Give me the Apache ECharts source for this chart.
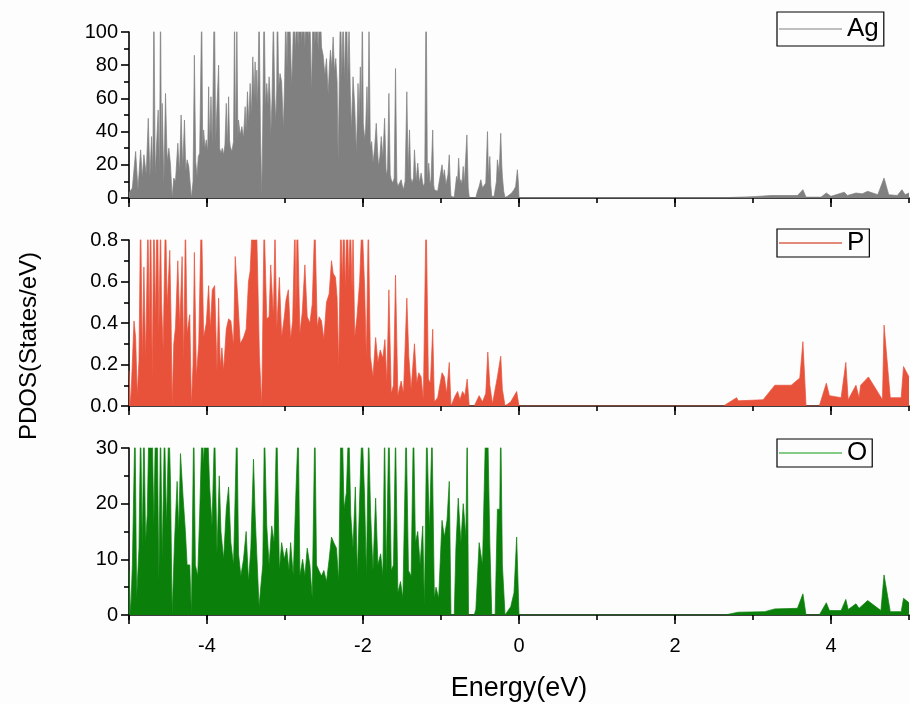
<!DOCTYPE html>
<html>
<head>
<meta charset="utf-8">
<script src="https://cdn.jsdelivr.net/npm/echarts@6/dist/echarts.min.js"></script>
<style>
html,body{margin:0;padding:0;background:#fdfdfd;}
#chart{width:910px;height:704px;}
</style>
</head>
<body>
<div id="chart"></div>
<script>
// ---- Data (energy in eV, PDOS in States/eV) ----
const seriesNames = ['Ag', 'P', 'O'];
const xTickLabels = [-4, -2, 0, 2, 4];
const agTicks = [0, 20, 40, 60, 80, 100];
const pTicks = [0.0, 0.2, 0.4, 0.6, 0.8];
const oTicks = [0, 10, 20, 30];
const xTitle = 'Energy(eV)';
const yTitle = 'PDOS(States/eV)';

const agData = [
[-5.000,3],[-4.957,6],[-4.915,28],[-4.885,5],[-4.851,29],[-4.830,12],[-4.809,26],[-4.779,14],[-4.753,48],[-4.732,12],
[-4.711,37],[-4.694,15],[-4.681,120],[-4.664,14],[-4.647,13],[-4.626,53],[-4.609,15],[-4.596,120],[-4.583,20],[-4.574,57],
[-4.553,8],[-4.532,63],[-4.511,22],[-4.489,30],[-4.468,20],[-4.447,0],[-4.426,12],[-4.404,10],[-4.374,33],[-4.353,15],
[-4.332,50],[-4.311,18],[-4.289,47],[-4.272,16],[-4.255,23],[-4.234,19],[-4.213,19],[-4.200,0],[-4.179,10],[-4.162,86],
[-4.145,22],[-4.128,13],[-4.111,25],[-4.094,27],[-4.068,115],[-4.055,30],[-4.043,41],[-4.026,30],[-4.009,35],[-3.991,28],
[-3.979,67],[-3.966,32],[-3.949,61],[-3.932,30],[-3.906,125],[-3.889,33],[-3.872,55],[-3.851,80],[-3.838,30],[-3.821,27],
[-3.804,30],[-3.787,26],[-3.770,32],[-3.753,57],[-3.740,30],[-3.723,61],[-3.711,35],[-3.702,31],[-3.681,28],[-3.660,34],
[-3.647,110],[-3.634,30],[-3.617,105],[-3.604,35],[-3.596,47],[-3.574,38],[-3.553,43],[-3.532,36],[-3.511,55],[-3.498,40],
[-3.481,64],[-3.464,45],[-3.447,69],[-3.430,50],[-3.413,85],[-3.396,60],[-3.383,82],[-3.370,58],[-3.362,77],[-3.349,55],
[-3.332,115],[-3.315,40],[-3.298,0],[-3.285,45],[-3.268,120],[-3.251,55],[-3.234,69],[-3.217,56],[-3.204,73],[-3.191,60],
[-3.183,37],[-3.166,60],[-3.149,110],[-3.132,62],[-3.119,45],[-3.106,65],[-3.098,125],[-3.081,66],[-3.064,75],[-3.043,70],
[-3.021,41],[-3.004,72],[-2.991,110],[-2.974,78],[-2.957,130],[-2.936,105],[-2.915,67],[-2.902,85],[-2.885,120],[-2.868,88],
[-2.851,110],[-2.830,90],[-2.809,140],[-2.787,92],[-2.766,115],[-2.745,90],[-2.723,130],[-2.702,95],[-2.681,110],[-2.660,63],
[-2.638,120],[-2.617,92],[-2.596,115],[-2.574,88],[-2.553,125],[-2.532,91],[-2.511,86],[-2.489,74],[-2.468,84],[-2.447,62],
[-2.430,80],[-2.417,89],[-2.400,78],[-2.383,97],[-2.366,76],[-2.349,84],[-2.332,70],[-2.319,22],[-2.302,75],[-2.289,120],
[-2.272,72],[-2.255,110],[-2.238,70],[-2.213,125],[-2.196,68],[-2.179,105],[-2.162,62],[-2.149,41],[-2.136,60],[-2.128,73],
[-2.106,55],[-2.085,27],[-2.072,50],[-2.064,69],[-2.051,48],[-2.034,79],[-2.021,45],[-2.009,115],[-1.996,45],[-1.979,35],
[-1.966,42],[-1.949,67],[-1.936,40],[-1.923,105],[-1.906,31],[-1.889,34],[-1.872,21],[-1.851,30],[-1.830,45],[-1.813,28],
[-1.800,19],[-1.783,25],[-1.766,37],[-1.745,24],[-1.723,48],[-1.702,13],[-1.685,18],[-1.668,63],[-1.651,14],[-1.638,11],
[-1.617,9],[-1.600,12],[-1.583,78],[-1.566,10],[-1.553,7],[-1.532,9],[-1.511,11],[-1.498,8],[-1.481,5],[-1.460,10],
[-1.438,64],[-1.421,15],[-1.404,41],[-1.387,12],[-1.370,9],[-1.353,12],[-1.340,29],[-1.319,10],[-1.298,21],[-1.277,9],
[-1.255,15],[-1.238,10],[-1.226,7],[-1.209,9],[-1.191,130],[-1.174,10],[-1.157,21],[-1.140,8],[-1.128,11],[-1.106,41],
[-1.094,8],[-1.085,5],[-1.064,4],[-1.043,4],[-1.021,5],[-0.987,20],[-0.970,12],[-0.957,17],[-0.936,8],[-0.928,7],
[-0.911,14],[-0.894,26],[-0.881,8],[-0.872,1],[-0.851,0.5],[-0.830,0.5],[-0.817,6],[-0.800,13],[-0.787,10],[-0.774,24],
[-0.757,9],[-0.745,11],[-0.732,8],[-0.715,19],[-0.702,8],[-0.689,9],[-0.668,38],[-0.651,6],[-0.638,0.4],[-0.596,0.3],
[-0.553,0.3],[-0.532,4],[-0.511,7],[-0.489,11],[-0.468,6],[-0.447,6],[-0.426,9],[-0.404,40],[-0.391,12],[-0.374,25],
[-0.362,8],[-0.349,1],[-0.319,1],[-0.306,1],[-0.289,10],[-0.277,23],[-0.255,15],[-0.234,39],[-0.221,20],[-0.213,13],
[-0.196,4],[-0.179,0.3],[-0.149,1],[-0.128,2],[-0.094,3],[-0.064,5],[-0.043,7],[-0.021,17],[-0.009,10],[0.000,0.3],
[0.050,0.3],[2.700,0.3],[2.720,0.5],[3.000,0.8],[3.230,1.5],[3.570,1.5],[3.640,5],[3.680,0.5],[3.870,0.5],[3.940,3],
[4.000,1],[4.170,3.5],[4.210,1.5],[4.320,3],[4.400,2.5],[4.470,4],[4.600,2],[4.680,12],[4.740,2],[4.850,1.5],
[4.910,5],[4.950,2],[5.000,3]
];

const pData = [
[-5.000,0.17],[-4.979,0.0],[-4.936,0.41],[-4.915,0.33],[-4.894,0.05],[-4.872,0.22],[-4.851,0.95],[-4.830,0.22],[-4.809,0.67],[-4.787,0.22],
[-4.757,0.9],[-4.740,0.35],[-4.723,1.0],[-4.702,0.13],[-4.681,0.95],[-4.660,0.4],[-4.638,1.1],[-4.617,0.35],[-4.596,0.9],[-4.583,0.5],
[-4.562,0.27],[-4.532,0.95],[-4.511,0.48],[-4.477,0.75],[-4.460,0.4],[-4.447,0.0],[-4.426,0.3],[-4.404,0.38],[-4.374,0.7],[-4.349,0.38],
[-4.319,0.72],[-4.298,0.21],[-4.277,0.9],[-4.255,0.35],[-4.221,0.44],[-4.200,0.0],[-4.179,0.2],[-4.162,0.74],[-4.136,0.14],[-4.106,0.3],
[-4.072,0.95],[-4.043,0.33],[-4.009,0.4],[-3.979,0.58],[-3.957,0.37],[-3.932,0.56],[-3.902,0.58],[-3.872,0.17],[-3.851,0.52],[-3.830,0.19],
[-3.809,0.28],[-3.787,0.17],[-3.753,0.37],[-3.723,0.42],[-3.694,0.41],[-3.660,0.29],[-3.638,0.72],[-3.609,0.54],[-3.574,0.3],[-3.532,0.33],
[-3.498,0.37],[-3.468,0.6],[-3.447,0.65],[-3.417,0.9],[-3.396,1.0],[-3.370,0.95],[-3.353,0.68],[-3.328,0.24],[-3.298,0.0],[-3.268,0.9],
[-3.234,0.42],[-3.204,0.43],[-3.183,0.68],[-3.149,0.43],[-3.128,0.85],[-3.106,0.37],[-3.072,0.62],[-3.043,0.33],[-3.009,0.43],[-2.987,0.51],
[-2.957,0.56],[-2.928,0.32],[-2.902,0.41],[-2.872,0.9],[-2.860,0.45],[-2.843,0.95],[-2.809,0.35],[-2.779,0.45],[-2.745,0.68],[-2.715,0.43],
[-2.681,0.4],[-2.651,0.49],[-2.617,0.9],[-2.587,0.38],[-2.562,0.43],[-2.532,0.41],[-2.502,0.32],[-2.468,0.5],[-2.434,0.54],[-2.404,0.7],
[-2.383,0.64],[-2.353,0.62],[-2.332,0.52],[-2.311,0.19],[-2.285,0.9],[-2.264,0.6],[-2.247,0.95],[-2.226,0.55],[-2.204,1.0],[-2.183,0.6],
[-2.162,0.9],[-2.140,0.55],[-2.128,0.85],[-2.106,0.33],[-2.077,0.43],[-2.043,0.6],[-2.013,0.9],[-1.979,0.57],[-1.957,0.22],[-1.932,0.9],
[-1.906,0.24],[-1.872,0.14],[-1.838,0.33],[-1.809,0.21],[-1.779,0.27],[-1.745,0.23],[-1.719,0.32],[-1.694,0.11],[-1.668,0.56],[-1.638,0.06],
[-1.609,0.1],[-1.583,0.63],[-1.553,0.05],[-1.511,0.12],[-1.481,0.06],[-1.438,0.52],[-1.413,0.24],[-1.383,0.08],[-1.340,0.3],[-1.311,0.11],
[-1.285,0.16],[-1.255,0.14],[-1.226,0.03],[-1.191,0.95],[-1.162,0.13],[-1.136,0.11],[-1.106,0.37],[-1.085,0.02],[-1.043,0.04],[-0.987,0.16],
[-0.957,0.14],[-0.928,0.06],[-0.894,0.21],[-0.872,0.0],[-0.817,0.05],[-0.787,0.07],[-0.757,0.03],[-0.723,0.07],[-0.694,0.05],[-0.664,0.13],
[-0.638,0.0],[-0.574,0.0],[-0.511,0.05],[-0.468,0.02],[-0.426,0.06],[-0.400,0.26],[-0.374,0.1],[-0.340,0.01],[-0.277,0.14],[-0.234,0.24],
[-0.213,0.08],[-0.179,0.0],[-0.106,0.02],[-0.030,0.07],[0.000,0.0],
[2.620,0.0],[2.790,0.04],[2.810,0.025],[3.130,0.03],[3.280,0.1],[3.490,0.1],[3.600,0.135],[3.640,0.31],[3.680,0.0],[3.850,0.0],
[3.940,0.11],[3.980,0.05],[4.130,0.04],[4.190,0.21],[4.220,0.03],[4.320,0.1],[4.360,0.04],[4.380,0.1],[4.480,0.14],[4.660,0.03],
[4.680,0.39],[4.760,0.04],[4.900,0.04],[4.930,0.19],[5.000,0.14]
];

const oData = [
[-5.000,8],[-4.979,0],[-4.957,9],[-4.936,25],[-4.923,35],[-4.902,3],[-4.872,12],[-4.851,35],[-4.830,12],[-4.809,35],
[-4.787,13],[-4.766,18],[-4.745,34],[-4.723,36],[-4.702,33],[-4.681,16],[-4.660,35],[-4.638,33],[-4.617,6],[-4.596,35],
[-4.574,10],[-4.545,34],[-4.519,16],[-4.489,35],[-4.468,24],[-4.447,0],[-4.417,13],[-4.383,24],[-4.362,15],[-4.340,29],
[-4.306,21],[-4.277,15],[-4.255,9],[-4.221,9],[-4.200,0],[-4.170,35],[-4.149,9],[-4.119,7],[-4.094,18],[-4.064,34],
[-4.043,27],[-4.021,36],[-3.991,33],[-3.966,23],[-3.936,16],[-3.902,34],[-3.872,11],[-3.843,25],[-3.821,15],[-3.787,10],
[-3.753,19],[-3.723,23],[-3.694,13],[-3.660,9],[-3.638,22],[-3.617,35],[-3.596,11],[-3.566,7],[-3.532,10],[-3.498,15],
[-3.468,6],[-3.438,12],[-3.404,28],[-3.383,18],[-3.362,11],[-3.332,1.5],[-3.311,5],[-3.285,9],[-3.264,34],[-3.234,16],
[-3.204,9],[-3.170,16],[-3.140,13],[-3.106,35],[-3.072,8],[-3.043,13],[-3.009,10],[-2.979,12],[-2.949,8],[-2.928,13],
[-2.894,7],[-2.860,22],[-2.830,34],[-2.809,7],[-2.774,10],[-2.745,7],[-2.715,12],[-2.681,9],[-2.651,3],[-2.617,35],
[-2.596,9],[-2.566,8],[-2.532,7],[-2.502,8],[-2.468,6],[-2.434,10],[-2.404,14],[-2.374,13],[-2.340,12],[-2.311,6],
[-2.285,34],[-2.264,33],[-2.243,19],[-2.213,22],[-2.183,35],[-2.157,18],[-2.128,12],[-2.098,23],[-2.072,7],[-2.043,21],
[-2.013,34],[-1.979,21],[-1.957,7],[-1.928,33],[-1.902,18],[-1.872,8],[-1.838,21],[-1.809,9],[-1.774,11],[-1.745,7],
[-1.723,34],[-1.702,7],[-1.668,35],[-1.638,8],[-1.609,9],[-1.583,33],[-1.553,4],[-1.519,6],[-1.489,3],[-1.447,34],
[-1.417,8],[-1.383,7],[-1.353,35],[-1.328,13],[-1.298,15],[-1.268,9],[-1.234,16],[-1.213,1.5],[-1.183,34],[-1.149,15],
[-1.115,33],[-1.085,3],[-1.064,5],[-1.030,3],[-0.987,17],[-0.957,14],[-0.923,17],[-0.894,24],[-0.872,0],[-0.830,0],
[-0.809,12],[-0.779,21],[-0.745,13],[-0.715,20],[-0.681,14],[-0.664,34],[-0.647,0],[-0.574,0],[-0.553,1],[-0.511,13],
[-0.468,9],[-0.426,35],[-0.400,33],[-0.374,13],[-0.349,0],[-0.306,0],[-0.277,19],[-0.247,19],[-0.234,35],[-0.213,9],
[-0.179,0],[-0.106,1.5],[-0.064,4],[-0.030,14],[0.000,0],
[2.640,0],[2.810,0.5],[3.150,0.6],[3.280,1.1],[3.570,1.2],[3.640,3.8],[3.680,0],[3.850,0],[3.940,2.2],[3.980,0.8],
[4.130,0.8],[4.190,2.8],[4.220,1],[4.320,2],[4.360,1.2],[4.470,2.6],[4.640,0.8],[4.680,7.2],[4.760,0.6],[4.900,0.6],
[4.930,3],[5.000,2.2]
];

// ---- Styling ----
const FONT = 'Liberation Sans, Arial, sans-serif';
const fillColors = ['#808080', '#e8523b', '#0a800a'];
const legendLineColors = ['#a8a8a8', '#d9644f', '#5db85d'];
const gridTops = [32, 240, 448];
const gridHeights = [166, 166, 167];
const yRanges = [[0, 100, 20], [0, 0.8, 0.2], [0, 30, 10]];
const dataSets = [agData, pData, oData];
const legendTops = [12, 229, 439];
const legendLineHeights = [32, 23, 23];

const grids = [], xAxes = [], yAxes = [], series = [], legends = [];
for (let i = 0; i < 3; i++) {
  grids.push({ left: 129, right: 1, top: gridTops[i], height: gridHeights[i], containLabel: false });
  const isBottom = i === 2;
  // minor (every 1 eV) ticks + axis line
  xAxes.push({
    type: 'value', gridIndex: i, min: -5, max: 5, interval: 1, position: 'bottom',
    axisLine: { show: true, onZero: false, lineStyle: { color: '#000', width: 1.6 } },
    axisTick: { show: true, length: 5, lineStyle: { color: '#000', width: 1.6 } },
    axisLabel: { show: false },
    splitLine: { show: false },
    name: isBottom ? xTitle : '',
    nameLocation: 'middle', nameGap: 60,
    nameTextStyle: { fontFamily: FONT, fontSize: 27, color: '#000' }
  });
  // major ticks + labels
  xAxes.push({
    type: 'value', gridIndex: i, min: -5, max: 5, interval: 1, position: 'bottom',
    axisLine: { show: false, onZero: false },
    axisTick: { show: true, length: 9, customValues: [-5].concat(xTickLabels), lineStyle: { color: '#000', width: 1.6 } },
    axisLabel: { show: isBottom, customValues: xTickLabels, margin: 21, fontFamily: FONT, fontSize: 20, color: '#000' },
    splitLine: { show: false }
  });
  const r = yRanges[i];
  yAxes.push({
    type: 'value', gridIndex: i, min: r[0], max: r[1], interval: r[2], position: 'left',
    axisLine: { show: true, onZero: false, lineStyle: { color: '#000', width: 1.6 } },
    axisTick: { show: true, length: 8, lineStyle: { color: '#000', width: 1.6 } },
    minorTick: { show: true, splitNumber: 2, length: 5, lineStyle: { color: '#000', width: 1.6 } },
    axisLabel: {
      margin: 11, fontFamily: FONT, fontSize: 20, color: '#000',
      formatter: i === 1 ? (v => v.toFixed(1)) : (v => String(v))
    },
    splitLine: { show: false }
  });
  series.push({
    name: seriesNames[i], type: 'line', xAxisIndex: i * 2, yAxisIndex: i,
    data: dataSets[i], showSymbol: false, symbol: 'none', clip: true,
    sampling: false, animation: false,
    lineStyle: { color: fillColors[i], width: 0.7 },
    itemStyle: { color: fillColors[i] },
    areaStyle: { color: fillColors[i], opacity: 1, origin: 'start' },
    z: 1
  });
  legends.push({
    data: [{ name: seriesNames[i], itemStyle: { color: legendLineColors[i] } }],
    left: 777, top: legendTops[i],
    orient: 'horizontal', icon: 'rect', itemWidth: 63, itemHeight: 1.5,
    padding: [1, 5, 1, 2], borderColor: '#000', borderWidth: 1.2, borderRadius: 0,
    backgroundColor: 'rgba(0,0,0,0)', selectedMode: false,
    textStyle: { fontFamily: FONT, fontSize: 26, color: '#000', lineHeight: legendLineHeights[i] }
  });
}

const chart = echarts.init(document.getElementById('chart'), null, { renderer: 'canvas' });
chart.setOption({
  backgroundColor: '#fdfdfd',
  animation: false,
  grid: grids, xAxis: xAxes, yAxis: yAxes, series: series, legend: legends,
  graphic: [{
    type: 'text', x: 29, y: 346, rotation: Math.PI / 2,
    style: { text: yTitle, fontFamily: FONT, fontSize: 24, fill: '#000', align: 'center', verticalAlign: 'middle' }
  }]
});
</script>
</body>
</html>
